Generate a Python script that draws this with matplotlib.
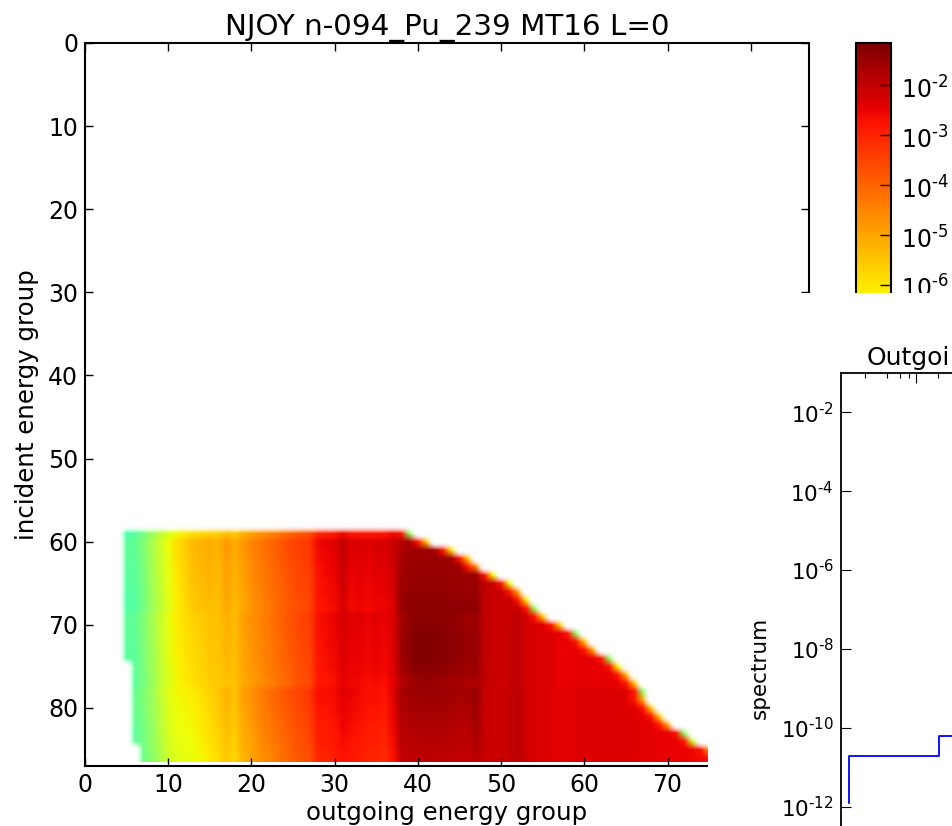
import numpy as np
import matplotlib
matplotlib.use('Agg')
import matplotlib.pyplot as plt
from matplotlib.colors import LogNorm
from matplotlib.patches import Rectangle
from matplotlib.ticker import LogLocator, NullFormatter
from matplotlib.transforms import ScaledTranslation

W, H = 953, 826
n_groups = 87
first_row = 59

# log10 of the matrix, one list per band of rows, outgoing groups 5..76
top_band = [-9.3, -9.0, -8.5, -7.9, -7.3, -6.8, -6.4, -6.1, -5.9, -5.8, -5.7, -5.7,
            -5.4, -5.6, -5.2, -5.0, -4.8, -4.6, -4.4, -4.2, -4.0, -3.8, -3.7,
            -3.1, -3.0, -2.9, -2.6, -2.9, -2.8, -2.9, -2.8, -2.8, -2.6, -2.4, -2.2]
top_band += [-2.2] * 37

upper_band = [-9.0, -8.9, -8.4, -7.7, -7.1, -6.5, -6.0, -5.7, -5.4, -5.3, -5.2, -5.3,
              -4.9, -5.2, -4.9, -4.6, -4.4, -4.2, -4.0, -3.8, -3.6, -3.5, -3.4,
              -2.7, -2.6, -2.5, -2.1, -2.5, -2.4, -2.5, -2.4, -2.4, -2.2,
              -1.6, -1.5, -1.45, -1.45, -1.45, -1.45, -1.5, -1.5, -1.55, -1.5,
              -2.0, -2.1, -2.1, -2.1, -2.1, -2.2, -2.3, -2.4, -2.4, -2.5, -2.5,
              -2.5, -2.5, -2.5, -2.5, -2.5, -2.5, -2.5, -2.5, -2.5, -2.5, -2.5,
              -2.5, -2.5, -2.5, -2.5, -2.5, -2.5, -2.5]

middle_band = [-9.0, -8.9, -8.4, -7.8, -7.2, -6.6, -6.2, -6.0, -5.8, -5.7, -5.5, -5.5,
               -5.3, -5.4, -5.0, -4.8, -4.6, -4.4, -4.2, -4.0, -3.8, -3.6, -3.5,
               -2.8, -2.7, -2.6, -2.35, -2.5, -2.5, -2.6, -2.5, -2.6, -2.4,
               -1.6, -1.35, -1.25, -1.25, -1.25, -1.3, -1.35, -1.4, -1.5, -1.45,
               -2.0, -2.1, -2.15, -2.1, -2.0, -2.2, -2.3, -2.4, -2.4, -2.5, -2.5,
               -2.5, -2.45, -2.5, -2.5, -2.45, -2.5, -2.5, -2.5, -2.5, -2.5, -2.5,
               -2.5, -2.5, -2.5, -2.5, -2.5, -2.5, -2.5]

lower_band = [-9.1, -9.0, -8.6, -8.1, -7.5, -6.9, -6.6, -6.5, -6.4, -6.2, -6.0, -5.8,
              -5.5, -5.7, -5.2, -5.0, -4.7, -4.5, -4.3, -4.1, -3.9, -3.75, -3.6,
              -3.0, -3.0, -2.9, -2.7, -2.8, -2.9, -3.0, -3.0, -3.1, -2.7,
              -2.0, -1.95, -1.9, -1.9, -1.9, -1.9, -1.95, -2.0, -2.0, -1.8,
              -2.1, -2.15, -2.15, -2.05, -1.95, -2.2, -2.3, -2.4, -2.4, -2.45, -2.45,
              -2.4, -2.4, -2.4, -2.4, -2.4, -2.4, -2.4, -2.4, -2.45, -2.45, -2.5,
              -2.5, -2.5, -2.5, -2.6, -2.6, -2.6, -2.6]

# which band each row 59..86 uses
row_bands = [0, 1, 1, 1, 1, 1, 1, 1, 1, 1,
             2, 2, 2, 2, 2, 2, 2, 2, 2,
             3, 3, 3, 3, 3, 3, 3, 3, 3]
# how far each row sits from its band below group 38 and in groups 38..47
left_shift = [0.0, 0.1, 0.07, 0.04, 0.01, -0.02, -0.05, -0.08, -0.12, -0.15,
              0.1, 0.08, 0.06, 0.04, 0.02, 0.0, -0.02, -0.05, -0.1,
              0.3, 0.26, 0.22, 0.18, 0.14, 0.1, 0.05, 0.0, -0.05]
peak_shift = [0.0, -0.25, -0.15, -0.1, -0.05, 0.0, 0.0, 0.05, 0.1, 0.12,
              -0.08, -0.05, -0.02, 0.0, 0.0, 0.0, -0.05, -0.15, -0.3,
              0.35, 0.3, 0.25, 0.2, 0.15, 0.1, 0.05, 0.0, -0.05]
first_group = [5] * 16 + [6] * 10 + [7] * 2
last_group = [39, 41, 44, 46, 47, 49, 51, 52, 53, 54, 55, 57, 59, 60, 61, 63, 64, 65,
              66, 67, 67, 68, 69, 70, 72, 73, 75, 76]
edge_values = [-8.0, -5.5, -6.0, -5.5, -4.5, -6.2, -6.5, -5.0, -6.0, -7.8, -5.5, -5.5,
               -8.0, -5.5, -5.0, -8.0, -6.2, -5.2, -5.5, -8.0, -5.0, -5.5, -5.5, -5.0,
               -8.0, -7.0, -5.0, -3.0]
rim_value = -2.8

# outgoing spectrum window
spectrum_x = [1.2e-5, 1.2e-5, 2.1e-4, 1e-2]
spectrum_y = [1.26e-12, 1.9e-11, 6e-11, 6e-11]

cbar_ticks = [1e-2, 1e-3, 1e-4, 1e-5, 1e-6]
spectrum_ticks = [1e-2, 1e-4, 1e-6, 1e-8, 1e-10, 1e-12]
spectrum_xticks = [1e-4, 1e-3]


def px_axes(left, top, right, bottom):
    return [left / W, 1 - bottom / H, (right - left) / W, (bottom - top) / H]


def power_label(v):
    # hyphen instead of a long minus, like old matplotlib
    return '$\\mathdefault{10^{\u2010%d}}$' % round(-np.log10(v))


bands = [top_band, upper_band, middle_band, lower_band]
matrix = np.full((n_groups, n_groups), np.nan)
for i, band in enumerate(row_bands):
    row = first_row + i
    for col in range(first_group[i], last_group[i] + 1):
        shift = 0.0
        if col < 38:
            shift = left_shift[i]
        elif col < 48:
            shift = peak_shift[i]
        matrix[row, col] = 10.0 ** (bands[band][col - 5] + shift)
    matrix[row, last_group[i] - 1] = min(matrix[row, last_group[i] - 1], 10.0 ** rim_value)
    matrix[row, last_group[i]] = 10.0 ** edge_values[i]

cmap = plt.get_cmap('jet').copy()
cmap.set_bad((1, 1, 1, 0))
norm = LogNorm(vmin=10.0 ** -15.62, vmax=10.0 ** -1.16)

fig = plt.figure(figsize=(W / 100, H / 100), dpi=100, facecolor='white')

ax = fig.add_axes(px_axes(85, 43, 809, 766))
im = ax.imshow(np.ma.masked_invalid(matrix), cmap=cmap, norm=norm, aspect='auto',
               interpolation='bilinear', interpolation_stage='rgba')
ax.set_xlim(0, n_groups)
ax.set_ylim(n_groups, 0)
ax.set_xticks(range(0, 81, 10))
ax.set_yticks(range(0, 81, 10))
ax.tick_params(direction='in', top=True, right=True, length=6, width=1, labelsize=17, pad=5)
ax.set_title('NJOY n-094_Pu_239 MT16 L=0', fontsize=21.2, pad=6)
ax.set_xlabel('outgoing energy group', fontsize=17.6, labelpad=3)
ax.set_ylabel('incident energy group', fontsize=17.6, labelpad=6)
for s in ax.spines.values():
    s.set_linewidth(1.5)

cax = fig.add_axes(px_axes(856, 43, 891, 766))
cb = fig.colorbar(im, cax=cax)
cb.set_ticks(cbar_ticks)
cb.set_ticklabels([power_label(v) for v in cbar_ticks])
cb.minorticks_off()
cax.tick_params(direction='in', length=8, width=1, labelsize=17, pad=7)
cb.outline.set_linewidth(1.5)
for label in cax.get_yticklabels():
    label.set_transform(label.get_transform() + ScaledTranslation(0, -2 / 100, fig.dpi_scale_trans))

# the other window covers the rest of the figure
fig.add_artist(Rectangle((708 / W, 0), 1, 1 - 293 / H, transform=fig.transFigure,
                         facecolor='white', edgecolor='none', zorder=5))

ax2 = fig.add_axes(px_axes(841, 373, 1341, 846), zorder=10)
ax2.plot(spectrum_x, spectrum_y, color='blue', lw=1.3, drawstyle='steps-post')
ax2.set_xscale('log')
ax2.set_yscale('log')
ax2.set_xlim(10.0 ** -5.027, 10.0 ** (-5.027 + 500 / 73))
ax2.set_ylim(1e-13, 1e-1)
ax2.set_yticks(spectrum_ticks)
ax2.set_yticklabels([power_label(v) for v in spectrum_ticks])
ax2.yaxis.set_minor_locator(plt.NullLocator())
ax2.set_xticks(spectrum_xticks)
ax2.set_xticklabels(['', ''])
ax2.xaxis.set_minor_locator(LogLocator(base=10, subs=(2, 4, 6, 8), numticks=10))
ax2.xaxis.set_minor_formatter(NullFormatter())
ax2.tick_params(which='major', direction='in', top=True, right=True, length=7, width=0.8,
                labelsize=15.5, pad=5)
ax2.tick_params(which='minor', direction='in', top=True, right=True, length=3.5, width=0.8)
for s in ax2.spines.values():
    s.set_linewidth(1.3)

# the window edge cuts the title here
fig.text(867 / W, 1 - 365 / H, 'Outgoi', fontsize=18, zorder=11)
fig.text(760 / W, 1 - 668 / H, 'spectrum', fontsize=15.5, rotation=90, ha='center',
         va='center', zorder=11)

fig.savefig('out.png', dpi=100)
